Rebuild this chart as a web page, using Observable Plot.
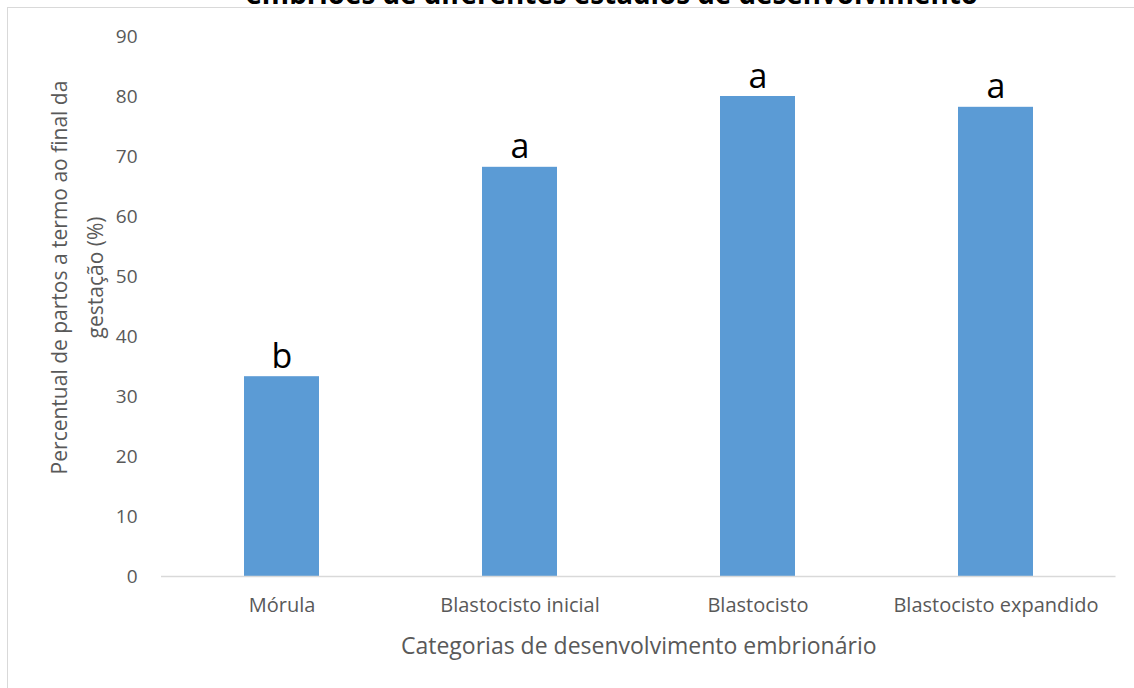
<!DOCTYPE html>
<html>
<head>
<meta charset="utf-8">
<script src="https://cdn.jsdelivr.net/npm/d3@7"></script>
<script src="https://cdn.jsdelivr.net/npm/@observablehq/plot@0.6"></script>
<style>
  html, body { margin: 0; padding: 0; background: #fff; }
  #wrap { position: relative; width: 1134px; height: 688px; overflow: hidden; }
  #frame { position: absolute; left: 7px; top: 7px; right: -10px; bottom: -10px;
           border-left: 1.5px solid #d9d9d9; border-top: 1.5px solid #d9d9d9; pointer-events: none; }
  #chart { position: absolute; left: 0; top: 0; }
</style>
</head>
<body>
<div id="wrap"><div id="chart"></div><div id="frame"></div></div>
<script>
const categories = ["Mórula", "Blastocisto inicial", "Blastocisto", "Blastocisto expandido"];
const values = [33.3, 68.2, 80.0, 78.2];
const letters = ["b", "a", "a", "a"];
const yTicks = [0, 10, 20, 30, 40, 50, 60, 70, 80, 90];
const title = "embriões de diferentes estádios de desenvolvimento";
const yLabel = "Percentual de partos a termo ao final da\ngestação (%)";
const xLabel = "Categorias de desenvolvimento embrionário";

const data = categories.map((c, i) => ({cat: c, value: values[i], letter: letters[i]}));
const font = "'Open Sans', 'DejaVu Sans', sans-serif";

const chart = Plot.plot({
  width: 1134,
  height: 688,
  marginLeft: 161,
  marginRight: 18.5,
  marginTop: 36,
  marginBottom: 112,
  style: {fontFamily: font, background: "transparent", overflow: "visible"},
  x: {domain: categories, paddingInner: 0.686, paddingOuter: 0.343, label: null},
  y: {domain: [0, 90], label: null},
  marks: [
    Plot.barY(data, {x: "cat", y: "value", fill: "#5b9bd5"}),
    Plot.ruleY([0], {stroke: "#d9d9d9", strokeWidth: 1.5}),
    Plot.axisY({ticks: yTicks, tickSize: 0, tickPadding: 24, fontSize: 19, fill: "#595959", label: null}),
    Plot.axisX({tickSize: 0, tickPadding: 21, fontSize: 20, fill: "#595959", label: null}),
    Plot.text(data, {x: "cat", y: "value", text: "letter", dy: -9, lineAnchor: "bottom",
                     fontSize: 34, fill: "#000"}),
    Plot.text([xLabel], {frameAnchor: "bottom", dy: 77, fontSize: 23, fill: "#595959"}),
    Plot.text([yLabel], {frameAnchor: "left", textAnchor: "middle", rotate: -90, dx: -88, dy: -29,
                         fontSize: 21, fill: "#595959", lineHeight: 1.71}),
    Plot.text([title], {frameAnchor: "top", dx: -27, dy: -32.5, lineAnchor: "bottom",
                        fontSize: 27.8, fontWeight: "bold", fill: "#000"})
  ]
});
document.getElementById("chart").appendChild(chart);
</script>
</body>
</html>
